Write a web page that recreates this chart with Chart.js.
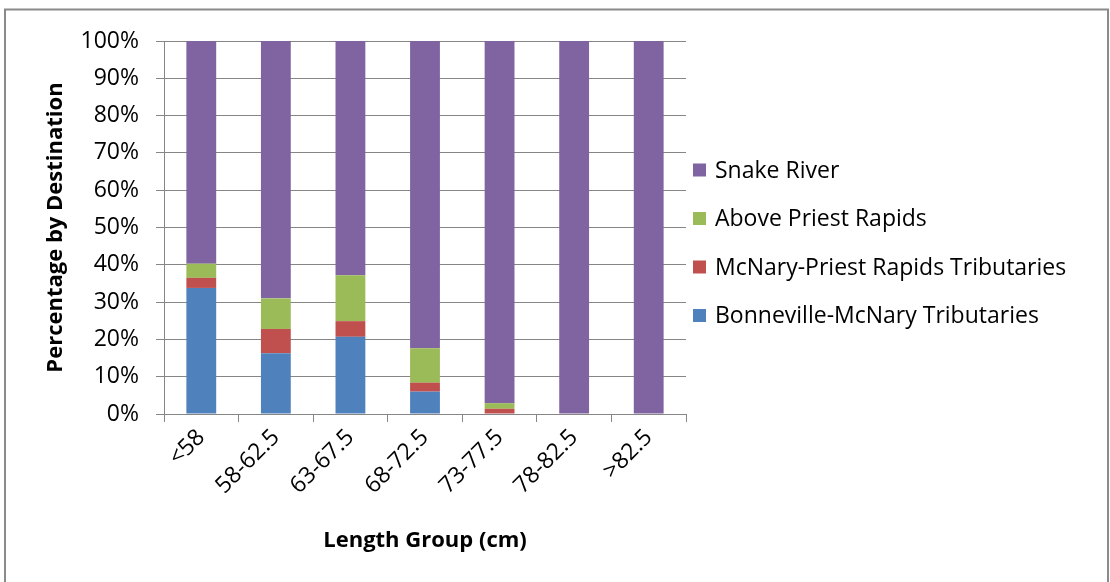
<!DOCTYPE html>
<html>
<head>
<meta charset="utf-8">
<script src="https://cdn.jsdelivr.net/npm/chart.js@4.4.1/dist/chart.umd.min.js"></script>
<style>
  html, body { margin: 0; padding: 0; background: #ffffff; }
  #wrap { position: relative; width: 1110px; height: 582px; }
</style>
</head>
<body>
<div id="wrap"><canvas id="chart" width="1110" height="582"></canvas></div>
<script>
// Length groups (cm)
const categories = ['<58', '58-62.5', '63-67.5', '68-72.5', '73-77.5', '78-82.5', '>82.5'];

// Percentage of fish by destination in each length group
const bonnevilleMcNary = [33.8, 16.3, 20.7, 6.0, 0.0, 0.0, 0.0];
const mcNaryPriest     = [2.7, 6.5, 4.2, 2.4, 1.4, 0.0, 0.0];
const abovePriest      = [3.8, 8.2, 12.3, 9.2, 1.5, 0.0, 0.0];
const snakeRiver       = [59.7, 69.0, 62.8, 82.4, 97.1, 100.0, 100.0];

const seriesNames = ['Bonneville-McNary Tributaries', 'McNary-Priest Rapids Tributaries', 'Above Priest Rapids', 'Snake River'];
const yTicks = [0, 10, 20, 30, 40, 50, 60, 70, 80, 90, 100];

const FONT = '"Open Sans", Lato, sans-serif';
const GRID = '#868686';

// Outer frame and legend drawn beside the plot
const framePlugin = {
  id: 'frame',
  beforeDraw(chart) {
    const ctx = chart.ctx;
    ctx.save();
    ctx.fillStyle = '#ffffff';
    ctx.fillRect(0, 0, chart.width, chart.height);
    ctx.strokeStyle = '#8a8a8a';
    ctx.lineWidth = 2;
    ctx.strokeRect(5, 9.5, 1103, 620);
    ctx.restore();
  },
  afterDraw(chart) {
    const ctx = chart.ctx;
    const ds = chart.data.datasets.slice().reverse();
    const x0 = 693, y0 = 171, step = 48.5, box = 13;
    ctx.save();
    ctx.font = '23px ' + FONT;
    ctx.textBaseline = 'middle';
    ctx.textAlign = 'left';
    ds.forEach((d, i) => {
      const y = y0 + i * step;
      ctx.fillStyle = d.backgroundColor;
      ctx.fillRect(x0, y - box / 2 - 1, box, box);
      ctx.fillStyle = '#000000';
      ctx.fillText(d.label, x0 + 22, y);
    });
    ctx.restore();
  }
};

new Chart(document.getElementById('chart'), {
  type: 'bar',
  data: {
    labels: categories,
    datasets: [
      { label: seriesNames[0], data: bonnevilleMcNary, backgroundColor: '#4F81BD' },
      { label: seriesNames[1], data: mcNaryPriest, backgroundColor: '#C0504D' },
      { label: seriesNames[2], data: abovePriest, backgroundColor: '#9BBB59' },
      { label: seriesNames[3], data: snakeRiver, backgroundColor: '#8064A2' }
    ]
  },
  options: {
    responsive: false,
    animation: false,
    devicePixelRatio: 1,
    datasets: { bar: { categoryPercentage: 1.0, barPercentage: 0.4, borderWidth: 0 } },
    layout: { padding: { top: 41, right: 424, bottom: 0, left: 0 } },
    plugins: { legend: { display: false }, tooltip: { enabled: false } },
    scales: {
      x: {
        stacked: true,
        offset: true,
        grid: { offset: true, drawOnChartArea: false, drawTicks: true, tickLength: 8, color: GRID, lineWidth: 1 },
        border: { display: true, color: GRID, width: 1 },
        ticks: { color: '#000000', font: { family: FONT, size: 23 }, minRotation: 45, maxRotation: 45, padding: 2, autoSkip: false },
        title: { display: true, text: 'Length Group (cm)', color: '#000000', font: { family: FONT, size: 22, weight: 'bold' }, padding: { top: 0, bottom: 28 } },
        afterFit(scale) { scale.height = 168; }
      },
      y: {
        stacked: true,
        min: 0,
        max: 100,
        afterBuildTicks(scale) { scale.ticks = yTicks.map(v => ({ value: v })); },
        grid: { color: GRID, lineWidth: 1, drawTicks: true, tickLength: 8 },
        border: { display: true, color: GRID, width: 1 },
        ticks: { color: '#000000', font: { family: FONT, size: 23 }, padding: 17, callback: v => v + '%' },
        title: { display: true, text: 'Percentage by Destination', color: '#000000', font: { family: FONT, size: 22, weight: 'bold' }, padding: { top: 43, bottom: 0 } },
        afterFit(scale) { scale.width = 164; }
      }
    }
  },
  plugins: [framePlugin]
});
</script>
</body>
</html>
